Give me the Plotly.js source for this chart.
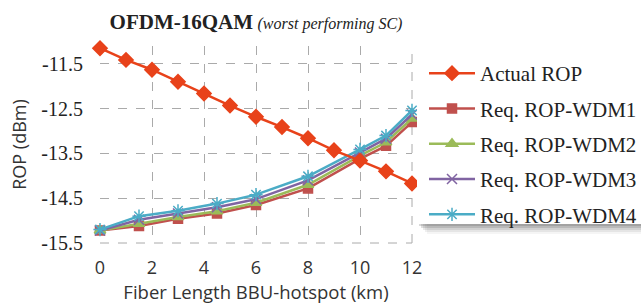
<!DOCTYPE html>
<html><head><meta charset="utf-8">
<script src="https://cdn.plot.ly/plotly-3.0.1.min.js"></script>
<style>html,body{margin:0;padding:0;background:#fff}#c{width:641px;height:306px}</style>
</head><body><div id="c"></div>
<script>
var xActual = [0,1,2,3,4,5,6,7,8,9,10,11,12];
var actualROP = [-11.15,-11.41,-11.63,-11.90,-12.16,-12.43,-12.68,-12.91,-13.16,-13.43,-13.66,-13.90,-14.17];
var xReq = [0,1.5,3,4.5,6,8,10,11,12];
var wdm1 = [-15.22,-15.12,-14.96,-14.84,-14.65,-14.28,-13.62,-13.33,-12.80];
var wdm2 = [-15.22,-15.07,-14.92,-14.79,-14.60,-14.20,-13.55,-13.25,-12.72];
var wdm3 = [-15.22,-14.98,-14.84,-14.70,-14.52,-14.10,-13.48,-13.17,-12.63];
var wdm4 = [-15.20,-14.90,-14.78,-14.62,-14.42,-14.01,-13.41,-13.10,-12.54];
var names = ["Actual ROP","Req. ROP-WDM1","Req. ROP-WDM2","Req. ROP-WDM3","Req. ROP-WDM4"];
var xTicks = [0,2,4,6,8,10,12];
var yTicks = [-11.5,-12.5,-13.5,-14.5,-15.5];

function tr(x,y,name,color,sym,size,grp,rank){
  return {x:x,y:y,name:name,type:'scatter',mode:'lines+markers',legendgroup:grp,legendrank:rank,cliponaxis:false,
    line:{color:color,width:2.5},
    marker:{symbol:sym,size:size,color:color,line:{color:color,width:1.5}}};
}
var data = [
  tr(xReq,wdm1,names[1],'#C0504D','square',9,'b',2),
  tr(xReq,wdm2,names[2],'#9BBB59','triangle-up',10,'c',3),
  tr(xReq,wdm3,names[3],'#8064A2','x-thin-open',10,'d',4),
  tr(xReq,wdm4,names[4],'#4BACC6','asterisk-open',11,'e',5),
  tr(xActual,actualROP,names[0],'#E8421A','diamond',11,'a',1)
];

var T = 46;
function px(x){return (x-100)/312;}
function py(y){return (243-y)/(243-T);}

var shadows = [];
[[10,10,0.06],[8,8,0.09],[6,6,0.13],[4,4,0.18],[2,2,0.22]].forEach(function(s){
  shadows.push({type:'rect',xref:'paper',yref:'paper',x0:px(417+s[0]),x1:px(670),y0:py(224+s[1]),y1:py(50+s[1]),
    fillcolor:'rgba(80,80,80,'+s[2]+')',line:{width:0},layer:'above'});
});

var layout = {
  width:641,height:306,
  margin:{l:100,r:229,t:T,b:63,autoexpand:false},
  paper_bgcolor:'#fff',plot_bgcolor:'#fff',
  showlegend:true,
  title:{text:'<b><span style="font-size:21px">OFDM-16QAM</span></b> <i><span style="font-size:16px">(worst performing SC)</span></i>',
    x:0.5,xref:'paper',xanchor:'center',y:0.945,yref:'container',
    font:{family:'Liberation Serif',size:18,color:'#222'}},
  xaxis:{range:[0,12],tickvals:xTicks,ticktext:xTicks.map(String),showgrid:true,gridcolor:'#aaa',griddash:'dash',gridwidth:1,
    zeroline:false,showline:false,ticks:'',ticklabelstandoff:12,
    tickfont:{family:'Open Sans',size:18,color:'#333'},
    title:{text:'Fiber Length BBU-hotspot (km)',font:{family:'Open Sans',size:18.5,color:'#333'},standoff:4}},
  yaxis:{range:[-15.5,-11.1],tickvals:yTicks,ticktext:yTicks.map(function(v){return v.toFixed(1);}),showgrid:true,gridcolor:'#aaa',griddash:'dash',gridwidth:1,
    zeroline:false,showline:false,ticks:'',ticklabelstandoff:16,
    tickfont:{family:'Liberation Serif',size:20,color:'#222'},
    title:{text:'ROP (dBm)',font:{family:'Open Sans',size:18,color:'#333'},standoff:10}},
  legend:{x:px(424),xanchor:'left',y:py(53),yanchor:'top',bgcolor:'rgba(0,0,0,0)',borderwidth:0,
    font:{family:'Liberation Serif',size:21,color:'#222'},tracegroupgap:5,traceorder:'grouped',itemwidth:46},
  shapes:shadows.concat([
    {type:'rect',xref:'paper',yref:'paper',x0:px(417),x1:px(670),y0:py(224),y1:py(50),fillcolor:'#fff',line:{width:0},layer:'above'},
    {type:'line',xref:'paper',yref:'paper',x0:0,x1:1,y0:0,y1:0,line:{color:'#aaa',width:1,dash:'dash'},layer:'below'},
    {type:'line',xref:'paper',yref:'paper',x0:1,x1:1,y0:0,y1:1,line:{color:'#aaa',width:1,dash:'dash'},layer:'below'}
  ])
};
Plotly.newPlot('c',data,layout,{displayModeBar:false,staticPlot:true});
</script></body></html>
